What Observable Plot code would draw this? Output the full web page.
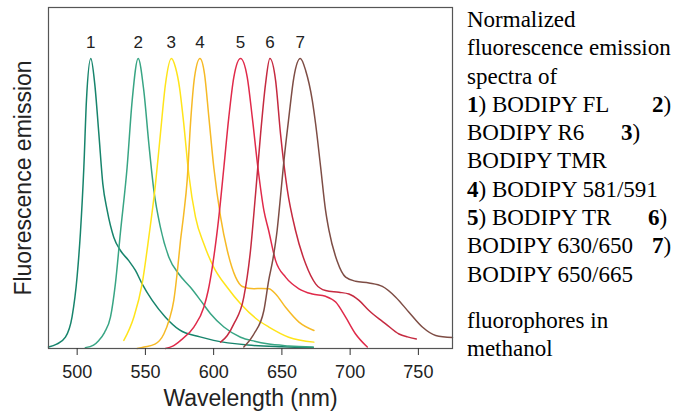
<!DOCTYPE html>
<html>
<head>
<meta charset="utf-8">
<script src="https://cdn.jsdelivr.net/npm/d3@7"></script>
<script src="https://cdn.jsdelivr.net/npm/@observablehq/plot@0.6"></script>
<style>
  html, body { margin: 0; padding: 0; background: #fff; }
  #wrap { position: relative; width: 679px; height: 417px; overflow: hidden; }
  #chart { position: absolute; left: 0; top: 0; }
  #desc { position: absolute; left: 467px; top: 6px; width: 212px;
          font-family: "Liberation Serif", "Times New Roman", Tinos, serif; font-size: 23px;
          line-height: 28.3px; color: #000; white-space: nowrap; }
  #desc .ln { position: relative; height: 28.3px; }
  #desc .rt { position: absolute; top: 0; }
  #desc .gap { margin-top: 18px; }
</style>
</head>
<body>
<div id="wrap">
  <div id="chart"></div>
  <div id="desc"></div>
</div>
<script>
// ---- data ----
const xTicks = [500, 550, 600, 650, 700, 750];
const dyeLabels = ["1", "2", "3", "4", "5", "6", "7"];
const dyeNames = ["BODIPY FL", "BODIPY R6", "BODIPY TMR", "BODIPY 581/591", "BODIPY TR", "BODIPY 630/650", "BODIPY 650/665"];
const xLabel = "Wavelength (nm)";
const yLabel = "Fluorescence emission";

const flNm = [479, 485, 491.4, 496.3, 500, 502.4, 504.9, 506.8, 510, 512.9, 515.9, 518.8, 522, 526.8, 531.7, 537.8, 542.7, 547.6, 555, 564.7, 575, 590, 600, 625, 650, 673];
const flEm = [0.005, 0.015, 0.039, 0.11, 0.25, 0.40, 0.625, 0.855, 1.0, 0.912, 0.74, 0.568, 0.476, 0.384, 0.338, 0.303, 0.269, 0.223, 0.166, 0.108, 0.064, 0.04, 0.028, 0.012, 0.006, 0.003];

const r6Nm = [506, 512, 515.9, 520, 524.4, 528, 531.7, 536.6, 540.3, 544.7, 548.8, 552.5, 556.2, 561, 567.2, 574.5, 583, 590.4, 597.7, 607.5, 619.7, 630, 639.3, 655, 673];
const r6Em = [0.003, 0.012, 0.028, 0.055, 0.108, 0.223, 0.40, 0.625, 0.855, 1.0, 0.89, 0.707, 0.545, 0.418, 0.315, 0.257, 0.211, 0.166, 0.12, 0.074, 0.039, 0.025, 0.016, 0.009, 0.005];

const tmrNm = [534.2, 541.5, 547.6, 552.5, 557.4, 561, 564.7, 569, 572, 575, 578, 581.8, 586.7, 592.8, 600.1, 609.9, 619.7, 631.9, 640.5, 655, 673.4];
const tmrEm = [0.028, 0.108, 0.223, 0.384, 0.568, 0.74, 0.912, 1.0, 0.97, 0.9, 0.78, 0.6, 0.453, 0.361, 0.28, 0.211, 0.154, 0.1, 0.074, 0.039, 0.022];

const b581Nm = [544, 549, 557, 563.5, 567.5, 570.8, 573.5, 575.7, 578, 580.6, 583.1, 586, 590, 593.3, 596.5, 600.1, 605.1, 610, 616.1, 621, 629.5, 635, 640.5, 645.4, 652.7, 662.5, 673.5];
const b581Em = [0.0, 0.005, 0.015, 0.05, 0.1, 0.166, 0.27, 0.372, 0.46, 0.58, 0.78, 0.936, 1.0, 0.947, 0.797, 0.625, 0.453, 0.338, 0.246, 0.214, 0.206, 0.207, 0.206, 0.188, 0.142, 0.091, 0.062];

const trNm = [564.7, 570, 575.8, 585.5, 592.8, 596, 599, 603.8, 607.5, 611.1, 614.8, 619.7, 624.6, 628.3, 632.4, 636.8, 640.3, 645.4, 652.7, 662.5, 672.3, 682, 689.4, 696.7, 704, 712.6];
const trEm = [0.0, 0.008, 0.028, 0.074, 0.142, 0.2, 0.28, 0.453, 0.625, 0.797, 0.936, 1.0, 0.936, 0.797, 0.625, 0.476, 0.407, 0.303, 0.246, 0.206, 0.188, 0.18, 0.16, 0.108, 0.05, 0.005];

const b630Nm = [605.1, 610, 614.8, 622.1, 627, 630.7, 634.4, 638, 641.2, 645.4, 649, 653.9, 660, 667.4, 674.7, 682, 691.8, 699.1, 706.5, 713.8, 721.2, 726, 735.8, 742, 748.5];
const b630Em = [0.022, 0.045, 0.085, 0.177, 0.338, 0.533, 0.74, 0.912, 1.0, 0.924, 0.74, 0.55, 0.407, 0.292, 0.223, 0.2, 0.194, 0.188, 0.166, 0.131, 0.102, 0.085, 0.05, 0.04, 0.033];

const b650Nm = [622.1, 629.5, 636.8, 640.3, 643.5, 646.5, 648.5, 651.5, 655.1, 658.8, 663.5, 667.4, 672.3, 674.7, 678.4, 682, 684.5, 690.6, 696.7, 704, 713.8, 723.6, 733.4, 743.1, 752.9, 762.7, 775];
const b650Em = [0.005, 0.05, 0.131, 0.234, 0.31, 0.407, 0.5, 0.648, 0.797, 0.936, 1.0, 0.959, 0.855, 0.775, 0.625, 0.476, 0.407, 0.3, 0.246, 0.232, 0.226, 0.214, 0.177, 0.125, 0.074, 0.045, 0.038];

// ---- build tables ----
const series = [[flNm, flEm], [r6Nm, r6Em], [tmrNm, tmrEm], [b581Nm, b581Em], [trNm, trEm], [b630Nm, b630Em], [b650Nm, b650Em]];
const spectra = series.flatMap(([nm, em], i) => nm.map((w, j) => ({id: dyeLabels[i], nm: w, em: em[j]})));
const peaks = series.map(([nm, em], i) => ({label: dyeLabels[i], nm: nm[em.indexOf(Math.max(...em))]}));
const lineColors = ["#17846c", "#38a584", "#ffe41a", "#f6ba26", "#e02a4a", "#c52a40", "#7e4d45"];

const chart = Plot.plot({
  width: 460,
  height: 417,
  marginLeft: 48,
  marginRight: 8,
  marginTop: 7,
  marginBottom: 69,
  x: {domain: [479, 775]},
  y: {domain: [0, 1.176], axis: null},
  color: {domain: dyeLabels, range: lineColors},
  style: {fontFamily: "'Liberation Sans', Arial, Helvetica, sans-serif", color: "#222", background: "white", overflow: "visible"},
  marks: [
    Plot.line(spectra, {x: "nm", y: "em", z: "id", stroke: "id", strokeWidth: 1.5, curve: "monotone-x"}),
    Plot.frame({stroke: "#555", strokeWidth: 1.2}),
    Plot.axisX(xTicks, {tickSize: 7, tickPadding: 10, fontSize: 18, label: null, stroke: "#333"}),
    Plot.text([xLabel], {text: d => d, frameAnchor: "bottom", lineAnchor: "middle", dy: 50, fontSize: 23, fill: "#222"}),
    Plot.text([yLabel], {text: d => d, frameAnchor: "left", textAnchor: "middle", lineAnchor: "middle", rotate: -90, dx: -25, fontSize: 23, fill: "#222"}),
    Plot.text(peaks, {x: "nm", text: "label", frameAnchor: "top", lineAnchor: "middle", dy: 35, fontSize: 17, fill: "#222"})
  ]
});
document.getElementById("chart").appendChild(chart);

// ---- description text ----
const desc = document.getElementById("desc");
function line(html, right, rightX, cls) {
  const d = document.createElement("div");
  d.className = "ln" + (cls ? " " + cls : "");
  d.innerHTML = html;
  if (right) {
    const s = document.createElement("span");
    s.className = "rt";
    s.style.left = (rightX - 467) + "px";
    s.innerHTML = right;
    d.appendChild(s);
  }
  desc.appendChild(d);
}
const b = t => "<b>" + t + "</b>)";
line("Normalized");
line("fluorescence emission");
line("spectra of");
line(b(dyeLabels[0]) + " " + dyeNames[0], b(dyeLabels[1]), 652);
line(dyeNames[1], b(dyeLabels[2]), 621);
line(dyeNames[2]);
line(b(dyeLabels[3]) + " " + dyeNames[3]);
line(b(dyeLabels[4]) + " " + dyeNames[4], b(dyeLabels[5]), 648);
line(dyeNames[5], b(dyeLabels[6]), 652);
line(dyeNames[6]);
line("fluorophores in", null, 0, "gap");
line("methanol");
</script>
</body>
</html>
